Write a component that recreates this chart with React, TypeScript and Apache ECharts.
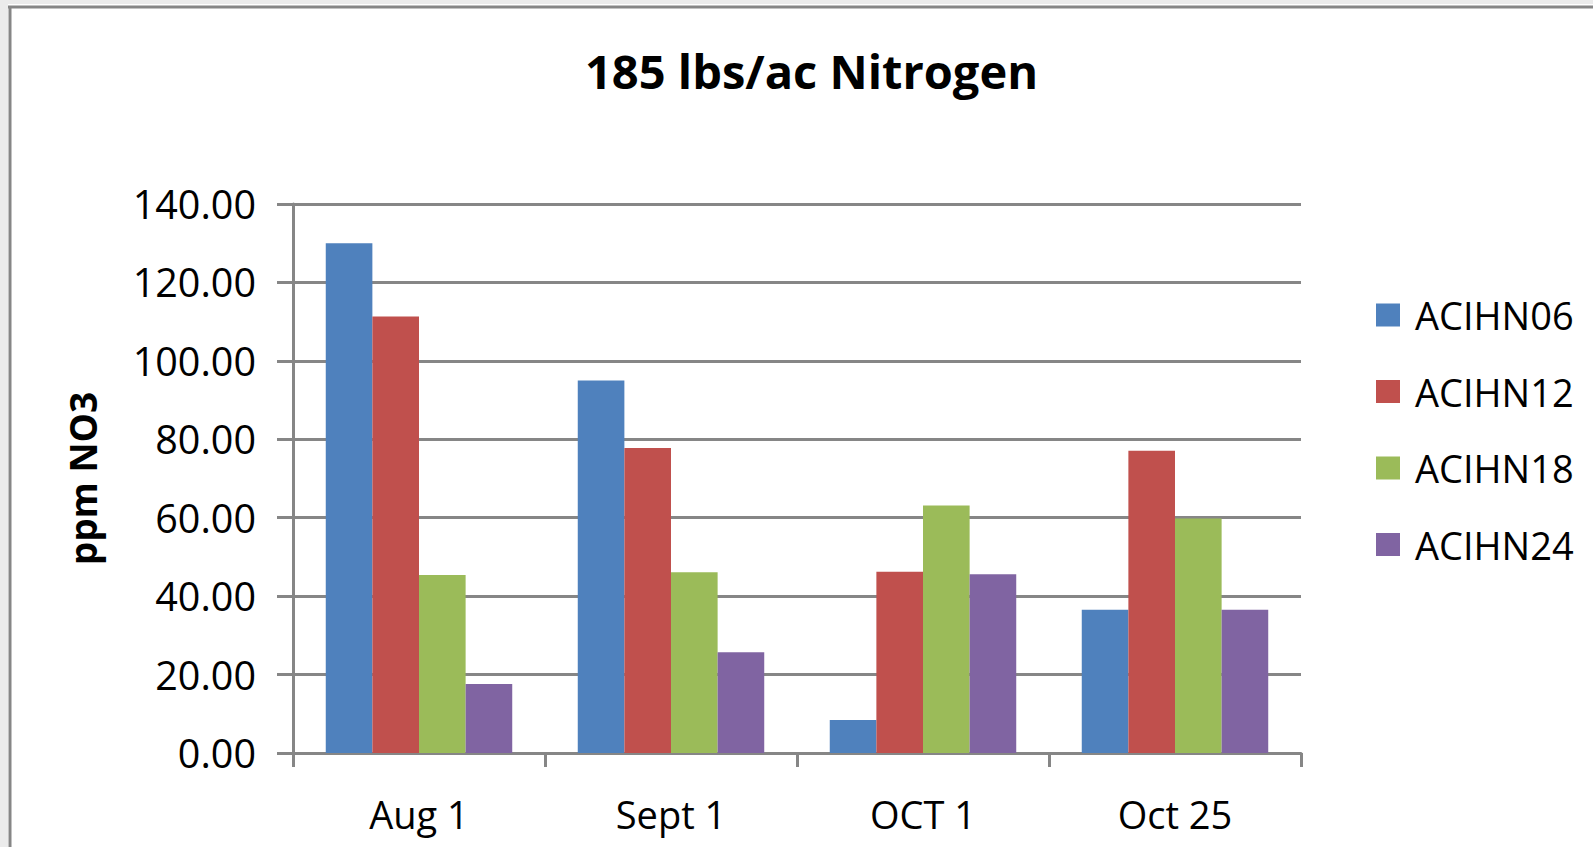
import React, { useEffect, useRef } from "react";
import * as echarts from "echarts";

const categories = ["Aug 1", "Sept 1", "OCT 1", "Oct 25"];
const seriesNames = ["ACIHN06", "ACIHN12", "ACIHN18", "ACIHN24"];
const acihn06 = [130.0, 95.0, 8.4, 36.5];
const acihn12 = [111.3, 77.8, 46.2, 77.1];
const acihn18 = [45.4, 46.1, 63.1, 59.8];
const acihn24 = [17.6, 25.7, 45.6, 36.5];
const seriesValues = [acihn06, acihn12, acihn18, acihn24];
const seriesColors = ["#4F81BD", "#C0504D", "#9BBB59", "#8064A2"];
const yTicks = [0, 20, 40, 60, 80, 100, 120, 140];

const FONT = "'Open Sans', 'DejaVu Sans', sans-serif";
const GRID_COLOR = "#868686";

export default function App() {
  const ref = useRef<HTMLDivElement | null>(null);

  useEffect(() => {
    if (!ref.current) return;
    const chart = echarts.init(ref.current, undefined, { renderer: "svg" });
    const option: any = {
      animation: false,
      backgroundColor: "#ffffff",
      textStyle: { fontFamily: FONT, color: "#000" },
      title: {
        text: "185 lbs/ac Nitrogen",
        left: 580,
        top: 42,
        textStyle: { fontFamily: FONT, fontSize: 47, fontWeight: "bold", color: "#000" },
      },
      legend: {
        orient: "vertical",
        left: 1371,
        top: 291,
        itemWidth: 24,
        itemHeight: 23,
        itemGap: 38.5,
        icon: "rect",
        data: seriesNames,
        textStyle: { fontFamily: FONT, fontSize: 38, color: "#000", padding: [0, 0, 0, 10] },
      },
      grid: { left: 293, right: 292, top: 204, bottom: 94, containLabel: false },
      xAxis: {
        type: "category",
        data: categories,
        boundaryGap: true,
        axisLine: { show: true, lineStyle: { color: GRID_COLOR, width: 3 } },
        axisTick: { show: true, alignWithLabel: false, length: 14, lineStyle: { color: GRID_COLOR, width: 3 } },
        axisLabel: { fontFamily: FONT, fontSize: 38, color: "#000", margin: 42 },
        splitLine: { show: false },
      },
      yAxis: {
        type: "value",
        min: yTicks[0],
        max: yTicks[yTicks.length - 1],
        interval: yTicks[1] - yTicks[0],
        name: "ppm NO3",
        nameLocation: "middle",
        nameRotate: 90,
        nameGap: 192,
        nameTextStyle: { fontFamily: FONT, fontSize: 37, fontWeight: "bold", color: "#000" },
        axisLine: { show: true, lineStyle: { color: GRID_COLOR, width: 3 } },
        axisTick: { show: true, length: 16, lineStyle: { color: GRID_COLOR, width: 3 } },
        axisLabel: {
          fontFamily: FONT,
          fontSize: 39.5,
          color: "#000",
          margin: 37,
          formatter: (v: number) => v.toFixed(2),
        },
        splitLine: { show: true, lineStyle: { color: GRID_COLOR, width: 3 } },
      },
      graphic: [
        { type: "rect", shape: { x: 0, y: 0, width: 8, height: 847 }, style: { fill: "#ebebeb" }, z: 100 },
        { type: "rect", shape: { x: 0, y: 0, width: 1593, height: 4 }, style: { fill: "#ebebeb" }, z: 100 },
        { type: "line", shape: { x1: 8, y1: 7, x2: 1593, y2: 7 }, style: { stroke: GRID_COLOR, lineWidth: 3 }, z: 101 },
        { type: "line", shape: { x1: 10, y1: 6, x2: 10, y2: 847 }, style: { stroke: GRID_COLOR, lineWidth: 3 }, z: 101 },
      ],
      series: seriesNames.map((name, i) => ({
        name,
        type: "bar",
        data: seriesValues[i],
        barGap: "0%",
        barCategoryGap: "26%",
        itemStyle: { color: seriesColors[i] },
      })),
    };
    chart.setOption(option);
    return () => chart.dispose();
  }, []);

  return (
    <div
      ref={ref}
      style={{ position: "fixed", left: 0, top: 0, width: 1593, height: 847 }}
    />
  );
}
